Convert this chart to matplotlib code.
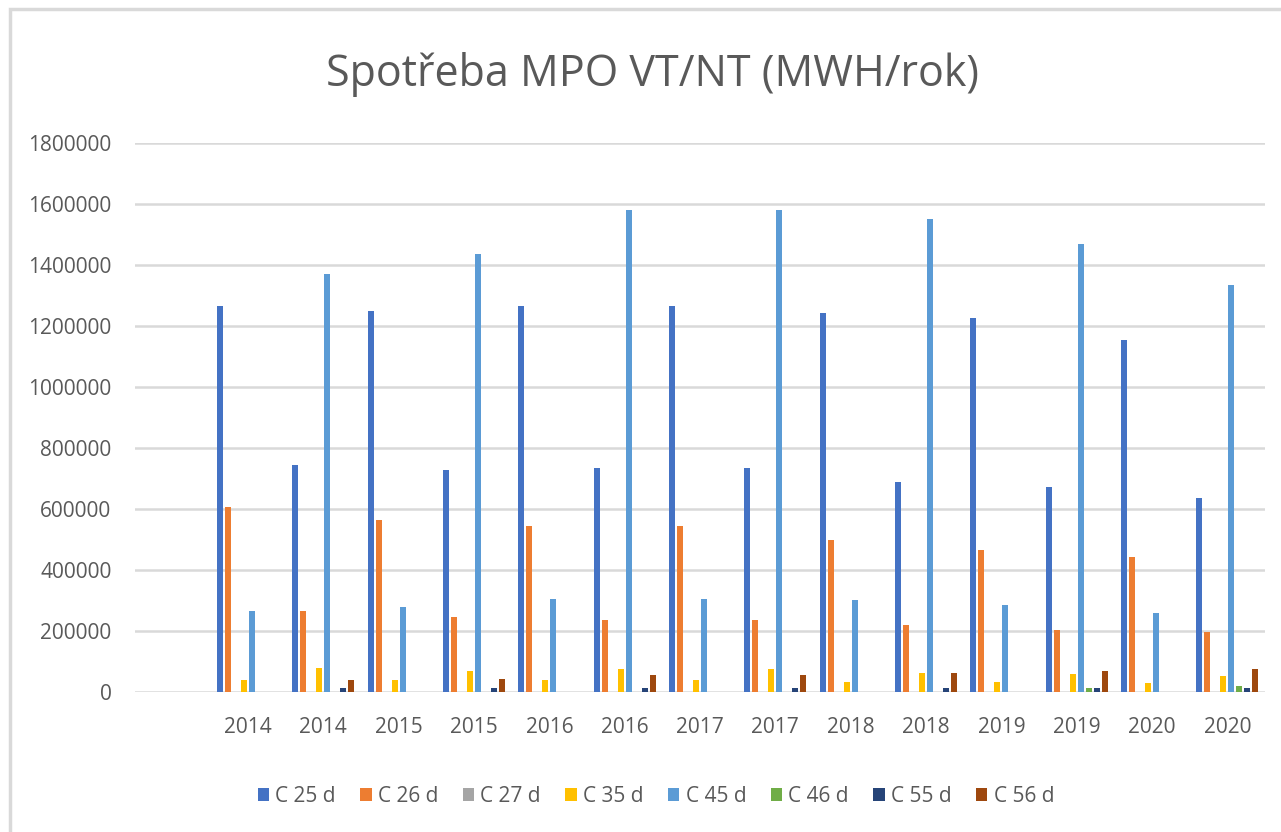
import numpy as np
import matplotlib.pyplot as plt
from matplotlib.patches import Rectangle

plt.rcParams['font.family'] = ['Open Sans', 'DejaVu Sans']

# first category is empty, Excel left a blank row in the source table
categories = ['', '2014', '2014', '2015', '2015', '2016', '2016', '2017', '2017',
              '2018', '2018', '2019', '2019', '2020', '2020']
series_names = ['C 25 d', 'C 26 d', 'C 27 d', 'C 35 d', 'C 45 d', 'C 46 d', 'C 55 d', 'C 56 d']
colors = ['#4472C4', '#ED7D31', '#A5A5A5', '#FFC000', '#5B9BD5', '#70AD47', '#264478', '#9E480E']

c25 = [0, 1265000, 744000, 1250000, 728000, 1265000, 733000, 1265000, 733000,
       1244000, 688000, 1225000, 672000, 1155000, 637000]
c26 = [0, 607000, 264000, 564000, 245000, 544000, 235000, 544000, 235000,
       498000, 220000, 467000, 204000, 443000, 196000]
c27 = [0] * 15
c35 = [0, 39000, 80000, 39000, 68000, 39000, 74000, 39000, 74000,
       34000, 63000, 34000, 59000, 28000, 53000]
c45 = [0, 264000, 1370000, 279000, 1436000, 305000, 1580000, 305000, 1580000,
       301000, 1551000, 285000, 1469000, 260000, 1334000]
c46 = [0, 0, 0, 0, 0, 0, 0, 0, 0, 0, 0, 0, 14000, 0, 19000]
c55 = [0, 0, 14000, 0, 14000, 0, 14000, 0, 14000, 0, 14000, 0, 14000, 0, 14000]
c56 = [0, 0, 39000, 0, 44000, 0, 55000, 0, 55000, 0, 63000, 0, 70000, 0, 74000]

values = [c25, c26, c27, c35, c45, c46, c55, c56]

fig = plt.figure(figsize=(12.81, 8.32), dpi=100)
ax = fig.add_axes([0.1054, 0.1683, 0.8821, 0.6598])

# chart border (only top and left edges are visible)
fig.patches.append(Rectangle((10 / 1281, -0.1), 1.2, 1 - 9 / 832 + 0.1,
                             transform=fig.transFigure, fill=False,
                             edgecolor='#d9d9d9', linewidth=2.5))

x = np.arange(len(categories))
slot = 0.106
bar_w = 0.08
for i, (name, vals, col) in enumerate(zip(series_names, values, colors)):
    offs = (i - 3.5) * slot
    ax.bar(x + offs, vals, width=bar_w, color=col, label=name, zorder=3)

ax.set_xlim(-0.5, len(categories) - 0.5)
ax.set_ylim(0, 1800000)
ax.set_yticks(np.arange(0, 1800001, 200000))
ax.set_yticklabels([str(v) for v in range(0, 1800001, 200000)])
ax.set_xticks(x)
ax.set_xticklabels(categories)
ax.grid(axis='y', color='#d9d9d9', linewidth=1.8, zorder=0)
ax.set_axisbelow(True)
for s in ax.spines.values():
    s.set_visible(False)
ax.tick_params(axis='both', length=0, labelsize=15, labelcolor='#595959')
ax.tick_params(axis='y', pad=17)
ax.tick_params(axis='x', pad=18)

fig.text(0.509, 0.91, 'Spotřeba MPO VT/NT (MWH/rok)', ha='center', va='center',
         fontsize=31, color='#595959')

leg = fig.legend(loc='center', bbox_to_anchor=(0.512, 0.043), ncol=8, frameon=False,
                 fontsize=15, handlelength=0.55, handleheight=0.55, handletextpad=0.3,
                 columnspacing=1.17, labelcolor='#595959')

fig.savefig('out.png', dpi=100)
